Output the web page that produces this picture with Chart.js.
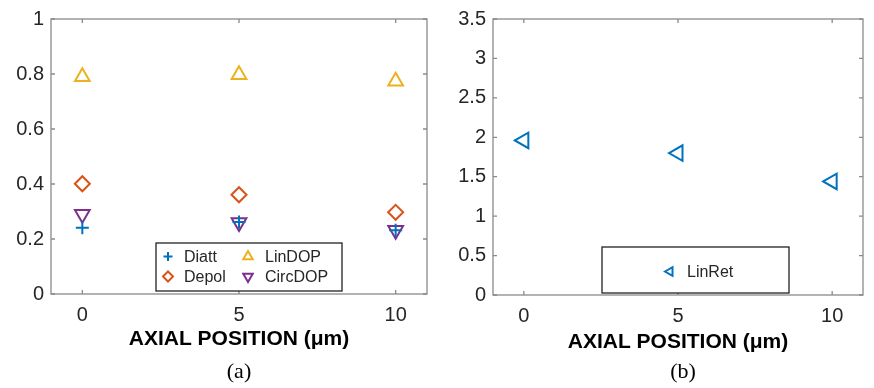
<!DOCTYPE html>
<html>
<head>
<meta charset="utf-8">
<script src="https://cdn.jsdelivr.net/npm/chart.js@4/dist/chart.umd.min.js"></script>
<style>
    body { margin: 0; background: #fff; }
    #wrap { position: relative; width: 874px; height: 388px; overflow: hidden; }
    .panel { position: absolute; top: 0; height: 388px; }
    .cap { position: absolute; top: 358px; font-family: "Liberation Serif", "Times New Roman", serif; font-size: 22px; color: #000; transform: translateX(-50%); }
</style>
</head>
<body>
<div id="wrap">
    <div class="panel" style="left:0;width:440px"><canvas id="chart-a" width="440" height="388"></canvas></div>
    <div class="panel" style="left:440px;width:434px"><canvas id="chart-b" width="434" height="388"></canvas></div>
    <div class="cap" style="left:239px">(a)</div>
    <div class="cap" style="left:683px">(b)</div>
</div>
<script>
// Datos
const positions = [0, 5, 10];
const xTicks = [0, 5, 10];
const diatt = [0.241, 0.262, 0.232];
const depol = [0.401, 0.361, 0.297];
const linDop = [0.79, 0.797, 0.774];
const circDop = [0.29, 0.26, 0.232];
const linRet = [1.96, 1.80, 1.44];

const FONT = '"Liberation Sans", Arial, Helvetica, sans-serif';
const TXT = '#262626';
const AXIS = '#8a8a8a';

function points(values) {
    return values.map((y, i) => ({ x: positions[i], y }));
}

function series(label, values, color, style, rotation, radius) {
    return {
        label: label,
        data: points(values),
        borderColor: color,
        backgroundColor: 'rgba(0,0,0,0)',
        pointStyle: style,
        rotation: rotation,
        pointRadius: radius,
        pointHoverRadius: radius,
        pointBorderWidth: 2,
        showLine: false
    };
}

// Marco con marcas hacia dentro y leyenda dentro del área
const framePlugin = {
    id: 'frame',
    beforeDatasetsDraw(chart) {
        const { ctx, chartArea: a, scales } = chart;
        ctx.save();
        ctx.strokeStyle = AXIS;
        ctx.lineWidth = 1.3;
        ctx.strokeRect(a.left, a.top, a.right - a.left, a.bottom - a.top);
        const len = 4;
        ctx.beginPath();
        scales.x.ticks.forEach(t => {
            const px = scales.x.getPixelForValue(t.value);
            ctx.moveTo(px, a.bottom); ctx.lineTo(px, a.bottom - len);
            ctx.moveTo(px, a.top); ctx.lineTo(px, a.top + len);
        });
        scales.y.ticks.forEach(t => {
            const py = scales.y.getPixelForValue(t.value);
            ctx.moveTo(a.left, py); ctx.lineTo(a.left + len, py);
            ctx.moveTo(a.right, py); ctx.lineTo(a.right - len, py);
        });
        ctx.stroke();
        ctx.restore();
    },
    afterDatasetsDraw(chart, args, opts) {
        if (!opts.box) return;
        const { ctx } = chart;
        const [l, t, r, b] = opts.box;
        ctx.save();
        ctx.fillStyle = '#fff';
        ctx.fillRect(l, t, r - l, b - t);
        ctx.strokeStyle = '#222';
        ctx.lineWidth = 1.3;
        ctx.strokeRect(l, t, r - l, b - t);
        ctx.font = '16px ' + FONT;
        ctx.textBaseline = 'middle';
        ctx.textAlign = 'left';
        opts.items.forEach(it => {
            const ds = chart.data.datasets[it.ds];
            ctx.strokeStyle = ds.borderColor;
            ctx.fillStyle = 'rgba(0,0,0,0)';
            ctx.lineWidth = 2;
            Chart.helpers.drawPoint(ctx, {
                pointStyle: ds.pointStyle,
                rotation: ds.rotation,
                radius: it.r,
                borderWidth: 2
            }, it.mx, it.y);
            ctx.fillStyle = TXT;
            ctx.fillText(ds.label, it.tx, it.y + 1);
        });
        ctx.restore();
    }
};

function makeChart(id, datasets, yMax, yStep, area, legend) {
    const canvas = document.getElementById(id);
    const w = canvas.width;
    return new Chart(canvas, {
        type: 'scatter',
        data: { datasets: datasets },
        options: {
            responsive: false,
            animation: false,
            devicePixelRatio: 1,
            layout: { padding: { top: area.top, right: w - area.right, left: 0, bottom: 0 } },
            plugins: {
                legend: { display: false },
                tooltip: { enabled: false },
                frame: legend
            },
            scales: {
                x: {
                    type: 'linear',
                    position: 'bottom',
                    min: -1,
                    max: 11,
                    afterBuildTicks: s => { s.ticks = xTicks.map(v => ({ value: v })); },
                    afterFit: s => { s.height = 388 - area.bottom; },
                    grid: { display: false, drawTicks: false },
                    border: { display: false },
                    ticks: { color: TXT, font: { family: FONT, size: 20 }, padding: 9, maxRotation: 0 },
                    title: {
                        display: true,
                        text: 'AXIAL POSITION (\u03bcm)',
                        color: '#000',
                        font: { family: FONT, size: 21, weight: 'bold' },
                        padding: { top: 0, bottom: area.titleGap }
                    }
                },
                y: {
                    min: 0,
                    max: yMax,
                    afterFit: s => { s.width = area.left; },
                    grid: { display: false, drawTicks: false },
                    border: { display: false },
                    ticks: {
                        stepSize: yStep,
                        color: TXT,
                        font: { family: FONT, size: 20 },
                        padding: 7,
                        callback: v => String(Math.round(v * 10) / 10)
                    }
                }
            }
        },
        plugins: [framePlugin]
    });
}

makeChart('chart-a', [
    series('Diatt', diatt, '#0072BD', 'cross', 0, 6.5),
    series('Depol', depol, '#D95319', 'rectRot', 0, 7.5),
    series('LinDOP', linDop, '#EDB120', 'triangle', 0, 8.5),
    series('CircDOP', circDop, '#7E2F8E', 'triangle', 180, 8.5)
], 1, 0.2, { left: 51, right: 427, top: 15, bottom: 294, titleGap: 36 }, {
    box: [156, 243, 342, 291],
    items: [
        { ds: 0, mx: 168, tx: 184, y: 256.5, r: 4.5 },
        { ds: 1, mx: 168, tx: 184, y: 276.5, r: 5 },
        { ds: 2, mx: 248, tx: 265, y: 256.5, r: 5.5 },
        { ds: 3, mx: 248, tx: 265, y: 276.5, r: 5.5 }
    ]
});

makeChart('chart-b', [
    series('LinRet', linRet, '#0072BD', 'triangle', 270, 9)
], 3.5, 0.5, { left: 53, right: 429, top: 18, bottom: 295, titleGap: 33 }, {
    box: [162, 247, 349, 293],
    items: [
        { ds: 0, mx: 230, tx: 247, y: 271.5, r: 5 }
    ]
});
</script>
</body>
</html>
